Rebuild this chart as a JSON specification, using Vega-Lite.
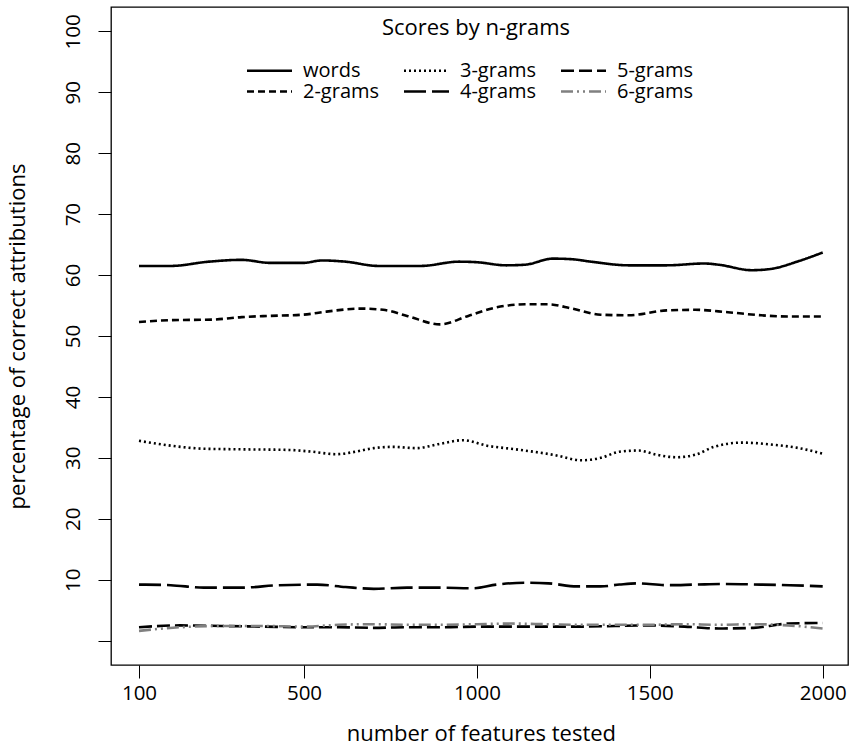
{
  "$schema": "https://vega.github.io/schema/vega-lite/v6.json",
  "autosize": {"type": "none"},
  "width": 737,
  "height": 658,
  "padding": {"left": 111, "top": 7, "right": 2, "bottom": 82},
  "background": "white",
  "config": {
    "font": "Open Sans",
    "view": {"stroke": "black", "strokeWidth": 1.3},
    "axis": {"grid": false, "domain": false, "tickColor": "black", "tickSize": 13, "labelColor": "black", "titleColor": "black", "labelFontSize": 20.5, "titleFontSize": 22, "titleFontWeight": "normal", "labelFont": "Open Sans", "titleFont": "Open Sans"},
    "legend": {"labelFont": "Open Sans", "titleFont": "Open Sans", "titleFontSize": 22, "labelFontSize": 20, "titleFontWeight": "normal", "rowPadding": -1, "columnPadding": 18, "titleLimit": 500, "labelLimit": 300}
  },
  "data": {"values": [
    {"series": "words", "features": 100, "pct": 61.5},
    {"series": "words", "features": 177, "pct": 61.5},
    {"series": "words", "features": 269, "pct": 62.2},
    {"series": "words", "features": 349, "pct": 62.5},
    {"series": "words", "features": 418, "pct": 62.0},
    {"series": "words", "features": 498, "pct": 62.0},
    {"series": "words", "features": 552, "pct": 62.4},
    {"series": "words", "features": 620, "pct": 62.2},
    {"series": "words", "features": 715, "pct": 61.5},
    {"series": "words", "features": 838, "pct": 61.5},
    {"series": "words", "features": 948, "pct": 62.2},
    {"series": "words", "features": 1002, "pct": 62.1},
    {"series": "words", "features": 1084, "pct": 61.6},
    {"series": "words", "features": 1139, "pct": 61.7},
    {"series": "words", "features": 1220, "pct": 62.7},
    {"series": "words", "features": 1275, "pct": 62.6},
    {"series": "words", "features": 1330, "pct": 62.2},
    {"series": "words", "features": 1439, "pct": 61.6},
    {"series": "words", "features": 1549, "pct": 61.6},
    {"series": "words", "features": 1658, "pct": 61.9},
    {"series": "words", "features": 1699, "pct": 61.7},
    {"series": "words", "features": 1795, "pct": 60.8},
    {"series": "words", "features": 1849, "pct": 61.0},
    {"series": "words", "features": 1931, "pct": 62.3},
    {"series": "words", "features": 2000, "pct": 63.7},

    {"series": "2-grams", "features": 100, "pct": 52.3},
    {"series": "2-grams", "features": 177, "pct": 52.6},
    {"series": "2-grams", "features": 280, "pct": 52.7},
    {"series": "2-grams", "features": 349, "pct": 53.1},
    {"series": "2-grams", "features": 418, "pct": 53.3},
    {"series": "2-grams", "features": 498, "pct": 53.5},
    {"series": "2-grams", "features": 565, "pct": 54.0},
    {"series": "2-grams", "features": 661, "pct": 54.5},
    {"series": "2-grams", "features": 729, "pct": 54.3},
    {"series": "2-grams", "features": 798, "pct": 53.3},
    {"series": "2-grams", "features": 893, "pct": 51.9},
    {"series": "2-grams", "features": 975, "pct": 53.3},
    {"series": "2-grams", "features": 1057, "pct": 54.7},
    {"series": "2-grams", "features": 1139, "pct": 55.2},
    {"series": "2-grams", "features": 1207, "pct": 55.2},
    {"series": "2-grams", "features": 1275, "pct": 54.5},
    {"series": "2-grams", "features": 1358, "pct": 53.5},
    {"series": "2-grams", "features": 1439, "pct": 53.4},
    {"series": "2-grams", "features": 1549, "pct": 54.2},
    {"series": "2-grams", "features": 1631, "pct": 54.3},
    {"series": "2-grams", "features": 1726, "pct": 53.9},
    {"series": "2-grams", "features": 1822, "pct": 53.4},
    {"series": "2-grams", "features": 1904, "pct": 53.2},
    {"series": "2-grams", "features": 2000, "pct": 53.2},

    {"series": "3-grams", "features": 100, "pct": 32.8},
    {"series": "3-grams", "features": 177, "pct": 32.0},
    {"series": "3-grams", "features": 257, "pct": 31.5},
    {"series": "3-grams", "features": 349, "pct": 31.4},
    {"series": "3-grams", "features": 463, "pct": 31.3},
    {"series": "3-grams", "features": 525, "pct": 31.0},
    {"series": "3-grams", "features": 593, "pct": 30.6},
    {"series": "3-grams", "features": 648, "pct": 31.0},
    {"series": "3-grams", "features": 702, "pct": 31.6},
    {"series": "3-grams", "features": 757, "pct": 31.8},
    {"series": "3-grams", "features": 825, "pct": 31.6},
    {"series": "3-grams", "features": 893, "pct": 32.3},
    {"series": "3-grams", "features": 961, "pct": 32.9},
    {"series": "3-grams", "features": 1029, "pct": 32.0},
    {"series": "3-grams", "features": 1112, "pct": 31.4},
    {"series": "3-grams", "features": 1221, "pct": 30.5},
    {"series": "3-grams", "features": 1303, "pct": 29.6},
    {"series": "3-grams", "features": 1358, "pct": 30.0},
    {"series": "3-grams", "features": 1412, "pct": 31.0},
    {"series": "3-grams", "features": 1467, "pct": 31.2},
    {"series": "3-grams", "features": 1521, "pct": 30.5},
    {"series": "3-grams", "features": 1576, "pct": 30.1},
    {"series": "3-grams", "features": 1631, "pct": 30.5},
    {"series": "3-grams", "features": 1685, "pct": 31.8},
    {"series": "3-grams", "features": 1767, "pct": 32.5},
    {"series": "3-grams", "features": 1849, "pct": 32.2},
    {"series": "3-grams", "features": 1931, "pct": 31.6},
    {"series": "3-grams", "features": 2000, "pct": 30.7},

    {"series": "4-grams", "features": 100, "pct": 9.2},
    {"series": "4-grams", "features": 177, "pct": 9.1},
    {"series": "4-grams", "features": 257, "pct": 8.7},
    {"series": "4-grams", "features": 349, "pct": 8.7},
    {"series": "4-grams", "features": 440, "pct": 9.1},
    {"series": "4-grams", "features": 538, "pct": 9.2},
    {"series": "4-grams", "features": 620, "pct": 8.8},
    {"series": "4-grams", "features": 702, "pct": 8.5},
    {"series": "4-grams", "features": 798, "pct": 8.7},
    {"series": "4-grams", "features": 893, "pct": 8.7},
    {"series": "4-grams", "features": 989, "pct": 8.6},
    {"series": "4-grams", "features": 1057, "pct": 9.2},
    {"series": "4-grams", "features": 1139, "pct": 9.5},
    {"series": "4-grams", "features": 1207, "pct": 9.4},
    {"series": "4-grams", "features": 1289, "pct": 8.9},
    {"series": "4-grams", "features": 1358, "pct": 8.9},
    {"series": "4-grams", "features": 1412, "pct": 9.2},
    {"series": "4-grams", "features": 1467, "pct": 9.4},
    {"series": "4-grams", "features": 1549, "pct": 9.1},
    {"series": "4-grams", "features": 1631, "pct": 9.2},
    {"series": "4-grams", "features": 1713, "pct": 9.3},
    {"series": "4-grams", "features": 1822, "pct": 9.2},
    {"series": "4-grams", "features": 1904, "pct": 9.1},
    {"series": "4-grams", "features": 2000, "pct": 8.9},

    {"series": "5-grams", "features": 100, "pct": 2.2},
    {"series": "5-grams", "features": 200, "pct": 2.5},
    {"series": "5-grams", "features": 300, "pct": 2.4},
    {"series": "5-grams", "features": 400, "pct": 2.3},
    {"series": "5-grams", "features": 500, "pct": 2.2},
    {"series": "5-grams", "features": 600, "pct": 2.2},
    {"series": "5-grams", "features": 700, "pct": 2.1},
    {"series": "5-grams", "features": 800, "pct": 2.2},
    {"series": "5-grams", "features": 900, "pct": 2.2},
    {"series": "5-grams", "features": 1000, "pct": 2.3},
    {"series": "5-grams", "features": 1100, "pct": 2.3},
    {"series": "5-grams", "features": 1200, "pct": 2.3},
    {"series": "5-grams", "features": 1300, "pct": 2.3},
    {"series": "5-grams", "features": 1400, "pct": 2.4},
    {"series": "5-grams", "features": 1500, "pct": 2.5},
    {"series": "5-grams", "features": 1600, "pct": 2.3},
    {"series": "5-grams", "features": 1700, "pct": 2.0},
    {"series": "5-grams", "features": 1800, "pct": 2.1},
    {"series": "5-grams", "features": 1900, "pct": 2.8},
    {"series": "5-grams", "features": 2000, "pct": 2.9},

    {"series": "6-grams", "features": 100, "pct": 1.6},
    {"series": "6-grams", "features": 200, "pct": 2.2},
    {"series": "6-grams", "features": 300, "pct": 2.4},
    {"series": "6-grams", "features": 400, "pct": 2.4},
    {"series": "6-grams", "features": 500, "pct": 2.3},
    {"series": "6-grams", "features": 600, "pct": 2.6},
    {"series": "6-grams", "features": 700, "pct": 2.7},
    {"series": "6-grams", "features": 800, "pct": 2.6},
    {"series": "6-grams", "features": 900, "pct": 2.6},
    {"series": "6-grams", "features": 1000, "pct": 2.7},
    {"series": "6-grams", "features": 1100, "pct": 2.8},
    {"series": "6-grams", "features": 1200, "pct": 2.7},
    {"series": "6-grams", "features": 1300, "pct": 2.6},
    {"series": "6-grams", "features": 1400, "pct": 2.6},
    {"series": "6-grams", "features": 1500, "pct": 2.6},
    {"series": "6-grams", "features": 1600, "pct": 2.7},
    {"series": "6-grams", "features": 1700, "pct": 2.6},
    {"series": "6-grams", "features": 1800, "pct": 2.7},
    {"series": "6-grams", "features": 1900, "pct": 2.5},
    {"series": "6-grams", "features": 2000, "pct": 2.0}
  ]},
  "mark": {"type": "line", "interpolate": "monotone", "strokeWidth": 2.6, "clip": true},
  "encoding": {
    "x": {
      "field": "features", "type": "quantitative",
      "scale": {"domain": [100, 500, 2000], "range": [28, 193, 711.7], "zero": false, "nice": false},
      "axis": {"values": [100, 500, 1000, 1500, 2000], "format": "d", "title": "number of features tested", "labelPadding": 5, "titlePadding": 20, "labelFlush": false}
    },
    "y": {
      "field": "pct", "type": "quantitative",
      "scale": {"domain": [-4, 104], "zero": false, "nice": false},
      "axis": {"values": [0, 10, 20, 30, 40, 50, 60, 70, 80, 90, 100], "labelExpr": "datum.value == 0 ? '' : datum.label", "labelAngle": -90, "labelAlign": "center", "labelBaseline": "bottom", "labelPadding": 15, "title": "percentage of correct attributions", "titlePadding": 34, "labelFlush": false}
    },
    "strokeDash": {
      "field": "series", "type": "nominal",
      "scale": {"domain": ["words", "3-grams", "5-grams", "2-grams", "4-grams", "6-grams"],
                "range": [[1, 0], [2, 3], [13, 5], [7, 4], [22, 6], [12, 4, 2, 4, 2, 4]]},
      "legend": {
        "title": "Scores by n-grams", "orient": "none", "legendX": 148, "legendY": 11,
        "direction": "horizontal", "columns": 3, "columnPadding": 18, "rowPadding": -1,
        "titleAnchor": "middle", "titleFontSize": 22, "titleFontWeight": "normal", "titlePadding": 20, "titleLimit": 500,
        "labelFontSize": 20, "labelOffset": 23, "symbolType": "M-2.5,0H2.5", "symbolSize": 324, "symbolStrokeWidth": 2.6,
        "labelColor": "black", "titleColor": "black"
      }
    },
    "color": {
      "field": "series", "type": "nominal",
      "scale": {"domain": ["words", "3-grams", "5-grams", "2-grams", "4-grams", "6-grams"],
                "range": ["black", "black", "black", "black", "black", "#808080"]}
    }
  }
}
